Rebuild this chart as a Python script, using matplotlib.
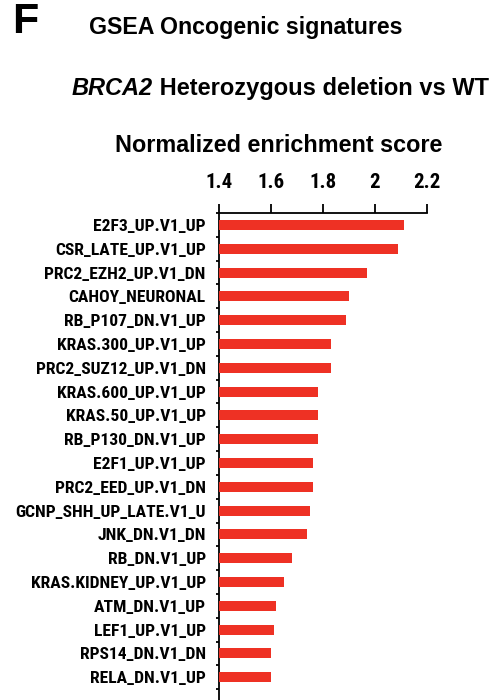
import numpy as np
import matplotlib
matplotlib.use("Agg")
import matplotlib.pyplot as plt
from matplotlib.ticker import FixedLocator

# ── Data ─────────────────────────────────────────────────────────────────────
SIGNATURES = [
    "E2F3_UP.V1_UP", "CSR_LATE_UP.V1_UP", "PRC2_EZH2_UP.V1_DN", "CAHOY_NEURONAL",
    "RB_P107_DN.V1_UP", "KRAS.300_UP.V1_UP", "PRC2_SUZ12_UP.V1_DN", "KRAS.600_UP.V1_UP",
    "KRAS.50_UP.V1_UP", "RB_P130_DN.V1_UP", "E2F1_UP.V1_UP", "PRC2_EED_UP.V1_DN",
    "GCNP_SHH_UP_LATE.V1_U", "JNK_DN.V1_DN", "RB_DN.V1_UP", "KRAS.KIDNEY_UP.V1_UP",
    "ATM_DN.V1_UP", "LEF1_UP.V1_UP", "RPS14_DN.V1_DN", "RELA_DN.V1_UP",
]
NES = [2.11, 2.09, 1.97, 1.90, 1.89, 1.83, 1.83, 1.78, 1.78, 1.78,
       1.76, 1.76, 1.75, 1.74, 1.68, 1.65, 1.62, 1.61, 1.60, 1.60]
X_TICKS = [1.4, 1.6, 1.8, 2.0, 2.2]
X_TICKLABELS = ["1.4", "1.6", "1.8", "2", "2.2"]

BAR_COLOR = "#ee3124"
NARROW = ["Roboto Condensed", "Liberation Sans", "DejaVu Sans"]
REGULAR = ["Liberation Sans", "DejaVu Sans"]

W, H = 498, 700
fig = plt.figure(figsize=(W / 100, H / 100), dpi=100)

# axes placed in pixel terms; bottom runs past the figure edge (cropped panel)
left_px, right_px, top_px, bottom_px = 219, 427, 213, 713
ax = fig.add_axes([left_px / W, 1 - bottom_px / H,
                   (right_px - left_px) / W, (bottom_px - top_px) / H])

y = np.arange(len(SIGNATURES))
ax.barh(y, [v - X_TICKS[0] for v in NES], left=X_TICKS[0], height=0.42,
        color=BAR_COLOR, zorder=3)

ax.set_xlim(X_TICKS[0], X_TICKS[-1])
ax.set_ylim(len(SIGNATURES) + 0.5, -0.5)

for s in ("right", "bottom"):
    ax.spines[s].set_visible(False)
for s in ("top", "left"):
    ax.spines[s].set_linewidth(1.3)
    ax.spines[s].set_color("black")

ax.xaxis.set_ticks_position("top")
ax.set_xticks(X_TICKS)
ax.set_xticklabels(X_TICKLABELS, fontfamily=NARROW, fontweight="bold", fontsize=15)
ax.tick_params(axis="x", direction="out", length=6.5, width=1.3, pad=8.8)

ax.set_yticks(y)
ax.set_yticklabels(SIGNATURES, fontfamily=NARROW, fontweight="bold", fontsize=12.6)
ax.tick_params(axis="y", which="major", length=0, pad=9.5)
ax.yaxis.set_minor_locator(FixedLocator(np.arange(-0.5, len(SIGNATURES) + 1, 1.0)))
ax.tick_params(axis="y", which="minor", direction="out", length=2.5, width=1.3)

# ── Titles ───────────────────────────────────────────────────────────────────
fig.text(12 / W, 1 - 33 / H, "F", fontsize=31, fontweight="bold",
         fontfamily=REGULAR, va="baseline", ha="left")
fig.text(89 / W, 1 - 34 / H, "GSEA Oncogenic signatures", fontsize=16.7,
         fontweight="bold", fontfamily=REGULAR, va="baseline", ha="left")
t1 = fig.text(72 / W, 1 - 95 / H, "BRCA2", fontsize=17, fontweight="bold",
              fontstyle="italic", fontfamily=REGULAR, va="baseline", ha="left")
ax.annotate(" Heterozygous deletion vs WT", xy=(1, 0), xycoords=t1,
            fontsize=17, fontweight="bold", fontfamily=REGULAR,
            va="bottom", ha="left", annotation_clip=False)
fig.text(279 / W, 1 - 152 / H, "Normalized enrichment score", fontsize=16.8,
         fontweight="bold", fontfamily=REGULAR, va="baseline", ha="center")

fig.savefig("out.png", dpi=100)
